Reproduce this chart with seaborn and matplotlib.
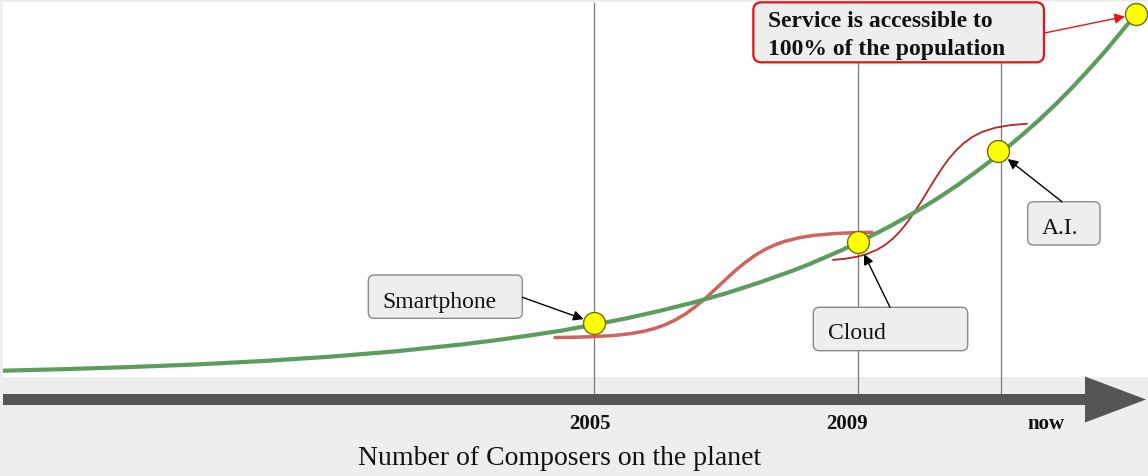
import matplotlib
matplotlib.use("Agg")
import matplotlib.pyplot as plt
import seaborn as sns
import pandas as pd
from matplotlib.patches import FancyBboxPatch, FancyArrow

# ---------------- data ----------------
green_years = [1996.05, 1997, 1998, 1999, 2000, 2001, 2002, 2003, 2003.5, 2004,
               2004.5, 2005, 2005.5, 2006, 2006.5, 2007, 2007.5, 2008, 2008.25,
               2008.5, 2008.75, 2009, 2009.25, 2009.5, 2009.75, 2010, 2010.25,
               2010.5, 2010.75, 2011, 2011.25, 2011.5, 2011.75, 2012, 2012.25,
               2012.5, 2012.75, 2013, 2013.21]
green_values = [1.77, 2.22, 2.81, 3.55, 4.50, 5.70, 7.22, 9.15, 10.3, 11.6,
                13.0, 14.7, 16.5, 18.6, 20.9, 23.5, 26.5, 29.8, 31.6,
                33.6, 35.6, 37.8, 40.1, 42.5, 45.1, 47.8, 50.7,
                53.8, 57.1, 60.6, 64.3, 68.2, 72.3, 76.7, 81.4,
                86.4, 91.6, 97.2, 101.9]

s1_years = [2004.409, 2004.712, 2005.015, 2005.318, 2005.545, 2005.773, 2005.924,
            2006.076, 2006.227, 2006.379, 2006.530, 2006.682, 2006.833, 2006.985,
            2007.136, 2007.288, 2007.439, 2007.591, 2007.742, 2007.894, 2008.121,
            2008.348, 2008.652, 2008.955, 2009.212]
s1_values = [11.09, 11.18, 11.35, 11.69, 12.16, 12.92, 13.67,
             14.67, 15.98, 17.64, 19.66, 22.00, 24.57, 27.23,
             29.80, 32.14, 34.16, 35.82, 37.13, 38.13, 39.17,
             39.82, 40.31, 40.55, 40.66]

s2_years = [2008.621, 2008.803, 2008.985, 2009.136, 2009.288, 2009.409, 2009.530,
            2009.636, 2009.742, 2009.848, 2009.955, 2010.061, 2010.167, 2010.273,
            2010.379, 2010.485, 2010.606, 2010.727, 2010.879, 2011.076, 2011.303,
            2011.561]
s2_values = [32.88, 33.21, 33.78, 34.56, 35.74, 37.09, 38.90,
             40.89, 43.31, 46.10, 49.19, 52.42, 55.63, 58.65,
             61.35, 63.64, 65.76, 67.38, 68.83, 70.00, 70.74,
             71.15]

milestone_years = [2005.0, 2009.0, 2011.12, 2013.21]
milestone_values = [15.2, 38.0, 63.4, 101.9]
milestone_labels = ["Smartphone", "Cloud", "A.I.", "Service is accessible to\n100% of the population"]

vline_years = [2005.0, 2009.0, 2011.16]
tick_years = [2004.94, 2008.83, 2011.85]
tick_labels = ["2005", "2009", "now"]
axis_title = "Number of Composers on the planet"

# ---------------- style ----------------
sns.set_theme(style="white")
plt.rcParams["font.family"] = ["Liberation Serif", "DejaVu Serif"]

W, H = 1148, 477
fig = plt.figure(figsize=(W / 100, H / 100), dpi=100, facecolor="#eeeeee")
ax = fig.add_axes([3 / W, 99 / H, 1145 / W, 375 / H])
ax.set_facecolor("white")
XL = (1996.045, 2013.394)
YL = (0.0, 105.34)
ax.set_xlim(*XL)
ax.set_ylim(*YL)
for sp in ax.spines.values():
    sp.set_visible(False)
ax.set_xticks([])
ax.set_yticks([])

px_x = 1145 / (XL[1] - XL[0])   # pixels per year
px_y = 375 / (YL[1] - YL[0])    # pixels per value unit
aspect = px_x / px_y

# vertical guide lines
ax.vlines(vline_years, -5.06, YL[1], colors="#7a7a7a", linewidth=0.9,
          zorder=1, clip_on=False)

# big time arrow
arr = FancyArrow(1996.045, -6.32, 17.319, 0, width=11 / px_y,
                 head_width=46 / px_y, head_length=61 / px_x,
                 length_includes_head=True, color="#555555", lw=0,
                 clip_on=False, zorder=2)
ax.add_patch(arr)

# curves
df_g = pd.DataFrame({"year": green_years, "value": green_values})
df_1 = pd.DataFrame({"year": s1_years, "value": s1_values})
df_2 = pd.DataFrame({"year": s2_years, "value": s2_values})
sns.lineplot(data=df_1, x="year", y="value", ax=ax, color="#c9524f",
             linewidth=2.5, alpha=0.9, zorder=3)
sns.lineplot(data=df_2, x="year", y="value", ax=ax, color="#b82424",
             linewidth=1.3, zorder=3)
sns.lineplot(data=df_g, x="year", y="value", ax=ax, color="#5c9c5f",
             linewidth=3.0, zorder=4)

# milestone dots
sns.scatterplot(x=milestone_years, y=milestone_values, ax=ax, s=250,
                color="#ffff00", edgecolor="#6e6e10", linewidth=1,
                zorder=6, clip_on=False)


def rbox(x0, x1, y0, y1, ec, lw, r_px):
    p = FancyBboxPatch((x0, y0), x1 - x0, y1 - y0,
                       boxstyle=f"round,pad=0,rounding_size={r_px / px_x}",
                       mutation_aspect=aspect, fc="#eeeeee", ec=ec, lw=lw,
                       zorder=7, clip_on=False)
    ax.add_patch(p)


def arrow(x_from, y_from, i, color, shrink):
    ax.annotate("", xy=(milestone_years[i], milestone_values[i]),
                xytext=(x_from, y_from),
                arrowprops=dict(arrowstyle="-|>", color=color, lw=1,
                                shrinkA=0, shrinkB=shrink, mutation_scale=15),
                zorder=8, annotation_clip=False)


# Smartphone
rbox(2001.58, 2003.914, 16.49, 28.65, "#8a8a8a", 1, 6)
ax.text(2001.79, 19.75, milestone_labels[0], fontsize=17, va="baseline",
        ha="left", color="#111111", zorder=9)
arrow(2003.914, 22.4, 0, "black", 8)

# Cloud
rbox(2008.323, 2010.662, 7.39, 19.58, "#8a8a8a", 1, 6)
ax.text(2008.55, 10.87, milestone_labels[1], fontsize=17, va="baseline",
        ha="left", color="#111111", zorder=9)
arrow(2009.485, 19.58, 1, "black", 10)

# A.I.
rbox(2011.571, 2012.667, 37.08, 49.24, "#8a8a8a", 1, 6)
ax.text(2011.783, 40.45, milestone_labels[2], fontsize=17, va="baseline",
        ha="left", color="#111111", zorder=9)
arrow(2012.09, 49.24, 2, "black", 9)

# Service box
rbox(2007.414, 2011.818, 88.4, 105.25, "#e31515", 1.6, 8)
line1, line2 = milestone_labels[3].split("\n")
ax.text(2007.636, 98.46, line1, fontsize=17, fontweight="bold",
        va="baseline", ha="left", color="#111111", zorder=9)
ax.text(2007.636, 90.73, line2, fontsize=17, fontweight="bold",
        va="baseline", ha="left", color="#111111", zorder=9)
arrow(2011.818, 96.6, 3, "#ee1111", 8)

# tick labels and axis title
for xt, lab in zip(tick_years, tick_labels):
    ax.text(xt, -14.33, lab, fontsize=15, fontweight="bold", ha="center",
            va="baseline", color="#111111", clip_on=False)
ax.text(2004.485, -24.44, axis_title, fontsize=20, ha="center",
        va="baseline", color="#111111", clip_on=False)

ax.set_xlabel("")
ax.set_ylabel("")
fig.savefig("out.png", dpi=100, facecolor=fig.get_facecolor())
